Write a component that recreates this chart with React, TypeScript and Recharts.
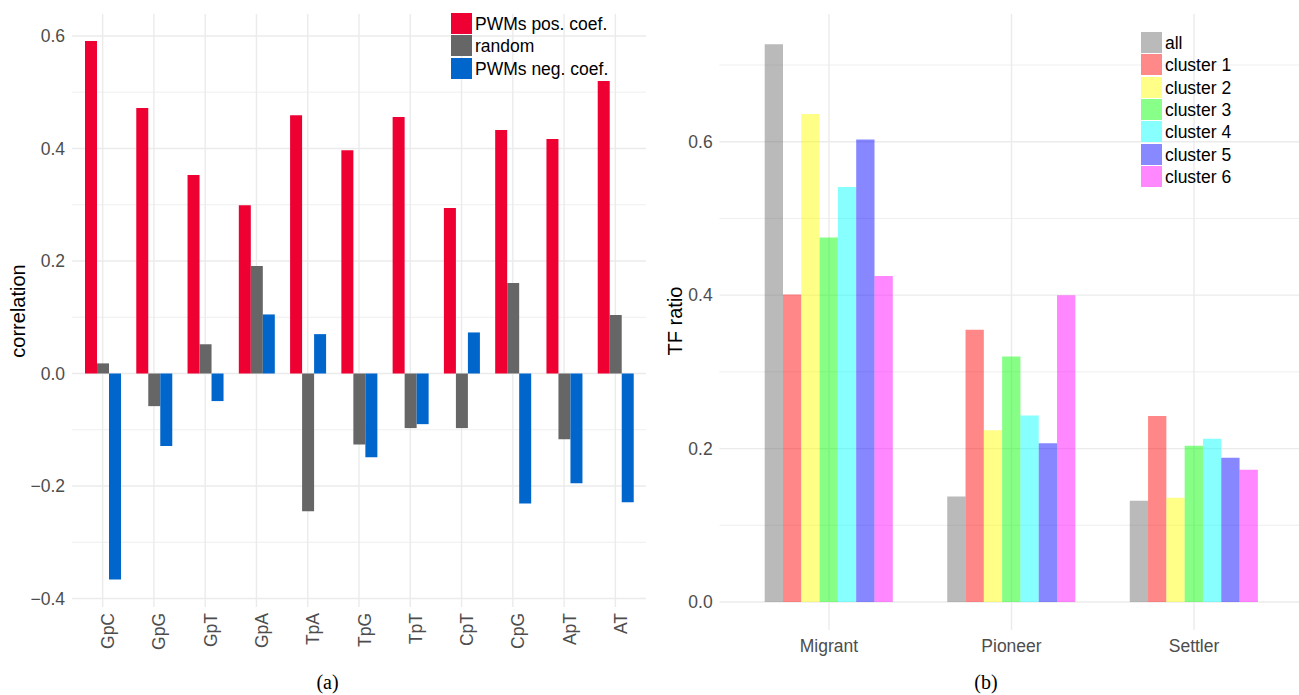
import React from 'react';
import { BarChart, Bar, XAxis, YAxis, CartesianGrid } from 'recharts';

// ---------- panel (a) data ----------
const dinucleotides = ['GpC', 'GpG', 'GpT', 'GpA', 'TpA', 'TpG', 'TpT', 'CpT', 'CpG', 'ApT', 'AT'];
const pwmPosCoef = [0.591, 0.472, 0.353, 0.299, 0.459, 0.397, 0.456, 0.294, 0.433, 0.417, 0.520];
const randomCoef = [0.018, -0.058, 0.052, 0.191, -0.245, -0.126, -0.097, -0.097, 0.161, -0.117, 0.104];
const pwmNegCoef = [-0.366, -0.129, -0.049, 0.105, 0.070, -0.149, -0.090, 0.073, -0.231, -0.195, -0.229];
const corrTicks = [-0.4, -0.2, 0, 0.2, 0.4, 0.6];
const corrMinor = [-0.3, -0.1, 0.1, 0.3, 0.5];
const corrSeries = ['PWMs pos. coef.', 'random', 'PWMs neg. coef.'];
const corrColors = ['#EE0033', '#666666', '#0066CC'];

// ---------- panel (b) data ----------
const tfCategories = ['Migrant', 'Pioneer', 'Settler'];
const tfAll = [0.727, 0.1375, 0.132];
const tfCluster1 = [0.401, 0.355, 0.2425];
const tfCluster2 = [0.636, 0.224, 0.136];
const tfCluster3 = [0.475, 0.320, 0.2036];
const tfCluster4 = [0.541, 0.243, 0.2127];
const tfCluster5 = [0.603, 0.207, 0.188];
const tfCluster6 = [0.425, 0.400, 0.1725];
const tfTicks = [0, 0.2, 0.4, 0.6];
const tfMinor = [0.1, 0.3, 0.5, 0.7];
const tfSeries = ['all', 'cluster 1', 'cluster 2', 'cluster 3', 'cluster 4', 'cluster 5', 'cluster 6'];
const tfBaseColors = ['#6C6C6C', '#FF0000', '#FFFF00', '#00FF00', '#00FFFF', '#0000FF', '#FF00FF'];
const tfSwatch = ['#BABABA', '#FF8888', '#FFFF88', '#88FF88', '#88FFFF', '#8888FF', '#FF88FF'];

const corrData = dinucleotides.map((name, i) => ({
  name,
  pos: pwmPosCoef[i],
  rnd: randomCoef[i],
  neg: pwmNegCoef[i],
}));
const corrKeys = ['pos', 'rnd', 'neg'];

const tfValues = [tfAll, tfCluster1, tfCluster2, tfCluster3, tfCluster4, tfCluster5, tfCluster6];
const tfKeys = ['all', 'c1', 'c2', 'c3', 'c4', 'c5', 'c6'];
const tfData = tfCategories.map((name, i) => {
  const row: Record<string, number | string> = { name };
  tfKeys.forEach((k, j) => {
    row[k] = tfValues[j][i];
  });
  return row;
});

const SANS = '"Liberation Sans", Arial, Helvetica, sans-serif';
const SERIF = '"Liberation Serif", "Times New Roman", serif';
const TICK_COLOR = '#4D4D4D';
const GRID = '#EBEBEB';

const fmt = (v: number) => (v < 0 ? `\u2212${Math.abs(v).toFixed(1)}` : v.toFixed(1));

const YTick = (props: any) => {
  const { x, y, payload } = props;
  return (
    <text x={x} y={y} dy="0.355em" textAnchor="end" fill={TICK_COLOR} fontSize={17.5} fontFamily={SANS}>
      {fmt(payload.value)}
    </text>
  );
};

const RotTick = (props: any) => {
  const { x, y, payload } = props;
  return (
    <text
      transform={`translate(${x + 11.5},${y + 6}) rotate(-90)`}
      textAnchor="end"
      fill={TICK_COLOR}
      fontSize={17.5}
      fontFamily={SANS}
    >
      {payload.value}
    </text>
  );
};

const FlatTick = (props: any) => {
  const { x, y, payload } = props;
  return (
    <text x={x} y={y + 22} textAnchor="middle" fill={TICK_COLOR} fontSize={17.5} fontFamily={SANS}>
      {payload.value}
    </text>
  );
};

const LegendBox = ({ left, top, labels, colors, pitch }: any) => (
  <div style={{ position: 'absolute', left, top, fontFamily: SANS, fontSize: 17.5, color: '#000' }}>
    {labels.map((l: string, i: number) => (
      <div key={l} style={{ position: 'absolute', left: 0, top: i * pitch, height: pitch, whiteSpace: 'nowrap' }}>
        <div style={{ position: 'absolute', left: 0, top: 0, width: 21, height: pitch - 1.2, background: colors[i] }} />
        <div style={{ position: 'absolute', left: 24, top: 0, lineHeight: `${pitch}px` }}>{l}</div>
      </div>
    ))}
  </div>
);

export default function App() {
  return (
    <div style={{ position: 'absolute', left: 0, top: 0, width: 1299, height: 695, overflow: 'hidden', background: '#fff' }}>
      <div style={{ position: 'absolute', left: 0, top: 0 }}>
        <BarChart
          width={660}
          height={695}
          data={corrData}
          margin={{ top: 14, right: 14, bottom: 0, left: 0 }}
          barGap={0}
          barSize={12}
        >
          <CartesianGrid stroke={GRID} strokeWidth={0.8} vertical={false} horizontalValues={corrMinor} syncWithTicks />
          <CartesianGrid stroke={GRID} strokeWidth={1.4} horizontalValues={corrTicks} syncWithTicks />
          <XAxis
            dataKey="name"
            type="category"
            interval={0}
            padding={{ left: 5, right: 5 }}
            height={88}
            tickLine={false}
            axisLine={false}
            tickSize={0}
            tickMargin={0}
            tick={<RotTick />}
          />
          <YAxis
            type="number"
            domain={[-0.415, 0.639]}
            allowDataOverflow
            ticks={corrTicks}
            width={72}
            tickLine={false}
            axisLine={false}
            tickSize={0}
            tickMargin={7}
            tick={<YTick />}
          />
          {corrKeys.map((k, i) => (
            <Bar key={k} dataKey={k} name={corrSeries[i]} fill={corrColors[i]} isAnimationActive={false} />
          ))}
        </BarChart>
      </div>
      <div style={{ position: 'absolute', left: 660, top: 0 }}>
        <BarChart
          width={660}
          height={695}
          data={tfData}
          margin={{ top: 14, right: 16.4, bottom: 0, left: 0 }}
          barGap={0}
          barSize={18.3}
        >
          <CartesianGrid stroke={GRID} strokeWidth={0.8} vertical={false} horizontalValues={tfMinor} syncWithTicks />
          <CartesianGrid stroke={GRID} strokeWidth={1.4} horizontalValues={tfTicks} syncWithTicks />
          <XAxis
            dataKey="name"
            type="category"
            interval={0}
            padding={{ left: 18.3, right: 18.3 }}
            height={65}
            tickLine={false}
            axisLine={false}
            tickSize={0}
            tickMargin={0}
            tick={<FlatTick />}
          />
          <YAxis
            type="number"
            domain={[-0.0365, 0.7665]}
            allowDataOverflow
            ticks={tfTicks}
            width={59.4}
            tickLine={false}
            axisLine={false}
            tickSize={0}
            tickMargin={6.7}
            tick={<YTick />}
          />
          {tfKeys.map((k, i) => (
            <Bar key={k} dataKey={k} name={tfSeries[i]} fill={tfBaseColors[i]} fillOpacity={0.47} isAnimationActive={false} />
          ))}
        </BarChart>
      </div>
      <LegendBox left={451} top={13} labels={corrSeries} colors={corrColors} pitch={22.3} />
      <LegendBox left={1141} top={32} labels={tfSeries} colors={tfSwatch} pitch={22.3} />
      <svg width={1299} height={695} style={{ position: 'absolute', left: 0, top: 0, pointerEvents: 'none' }}>
        <text transform="translate(25,311) rotate(-90)" textAnchor="middle" fontSize={20} fontFamily={SANS} fill="#000">
          correlation
        </text>
        <text transform="translate(682,321) rotate(-90)" textAnchor="middle" fontSize={20} fontFamily={SANS} fill="#000">
          TF ratio
        </text>
        <text x={327.5} y={689} textAnchor="middle" fontSize={20} fontFamily={SERIF} fill="#000">
          (a)
        </text>
        <text x={986} y={689} textAnchor="middle" fontSize={20} fontFamily={SERIF} fill="#000">
          (b)
        </text>
      </svg>
    </div>
  );
}
